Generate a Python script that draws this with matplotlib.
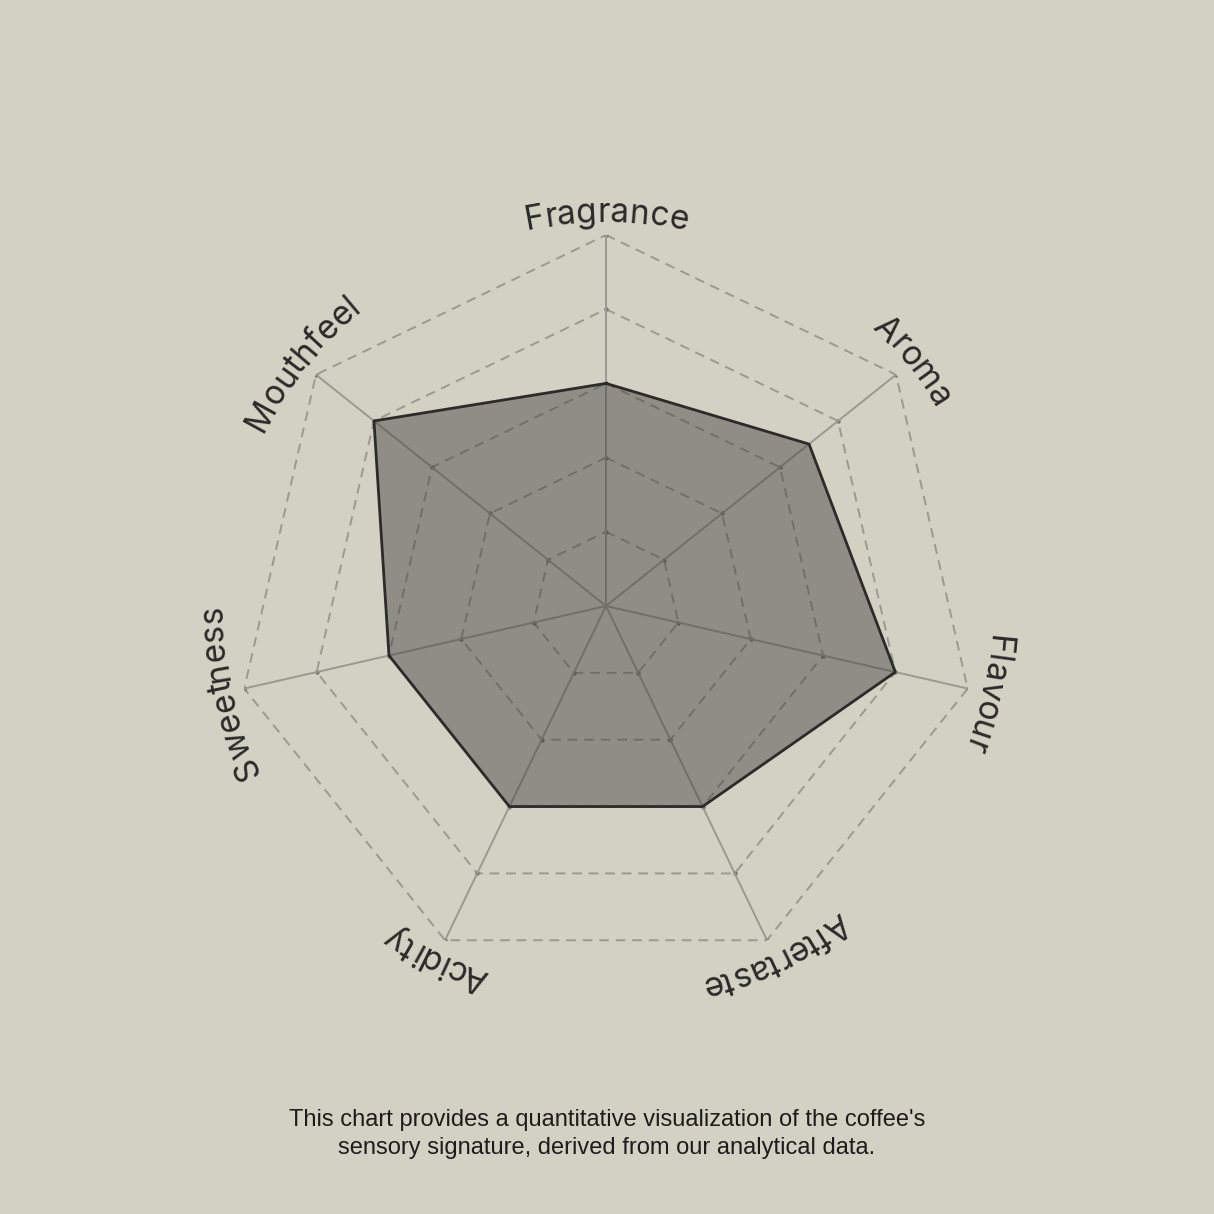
import numpy as np
import matplotlib
matplotlib.use('Agg')
import matplotlib.pyplot as plt
from matplotlib.font_manager import FontProperties, findfont, get_font

# perfil sensorial do café (escala 0-5)
categorias = ['Fragrance', 'Aroma', 'Flavour', 'Aftertaste', 'Acidity', 'Sweetness', 'Mouthfeel']
notas = [3, 3.5, 4, 3, 3, 3, 4]
niveis = [1, 2, 3, 4, 5]
legenda = ["This chart provides a quantitative visualization of the coffee's",
           "sensory signature, derived from our analytical data."]

fundo = '#D3D1C4'
cor_grade = '#9B9991'
cor_texto = '#2A2B28'

W = 1214
DPI = 100
cx, cy, R = 606, 606, 371   # centro e raio do radar em pixels

fig = plt.figure(figsize=(W / DPI, W / DPI), dpi=DPI, facecolor=fundo)
ax = fig.add_axes([(cx - R) / W, (W - cy - R) / W, 2 * R / W, 2 * R / W], projection='polar')
ax.set_theta_zero_location('N')
ax.set_theta_direction(-1)
ax.set_ylim(0, niveis[-1])
ax.axis('off')

n = len(categorias)
angulos = np.arange(n) * 2 * np.pi / n
ang_f = np.append(angulos, angulos[0])

# grade tracejada e raios
for nv in niveis:
    ax.plot(ang_f, [nv] * (n + 1), color=cor_grade, lw=1.4, ls=(0, (5, 3.5)), zorder=1)
    ax.plot(angulos, [nv] * n, 'o', ms=2.2, color='#77766f', zorder=1)
for a in angulos:
    ax.plot([a, a], [0, niveis[-1]], color=cor_grade, lw=1.4, zorder=1)

vals = np.append(notas, notas[0])
ax.fill(ang_f, vals, color='#3C3C3A', alpha=0.45, lw=0, zorder=2)
ax.plot(ang_f, vals, color='#2B2C29', lw=2, zorder=3)


def rotulo_curvo(texto, phi, r_px, tamanho=24, espaco=0.0):
    # escreve o texto letra a letra ao longo do arco
    fp = FontProperties(family='Inter', size=tamanho)
    fonte = get_font(findfont(fp))
    fonte.set_size(tamanho, DPI)
    glifos = [fonte.load_char(ord(c)) for c in texto]
    avancos = [g.linearHoriAdvance / 65536 + espaco for g in glifos]
    total = sum(avancos) - espaco
    inicio = phi - total / 2 / r_px
    acum = 0
    r_dado = niveis[-1] * r_px / R
    for c, g, av in zip(texto, glifos, avancos):
        meio = acum + g.horiBearingX / 64 + g.width / 128
        p = inicio + meio / r_px
        ax.text(p, r_dado, c, rotation=-np.degrees(p), rotation_mode='anchor',
                ha='center', va='baseline', fontproperties=fp, color=cor_texto,
                clip_on=False)
        acum += av


for cat, a in zip(categorias, angulos):
    rotulo_curvo(cat, a, 384)

for linha, y in zip(legenda, [1126, 1154]):
    fig.text(0.5, 1 - y / W, linha, ha='center', va='baseline', fontsize=17,
             family='Liberation Sans', color='#1c1c1a')

fig.savefig('out.png', dpi=DPI, facecolor=fundo)
